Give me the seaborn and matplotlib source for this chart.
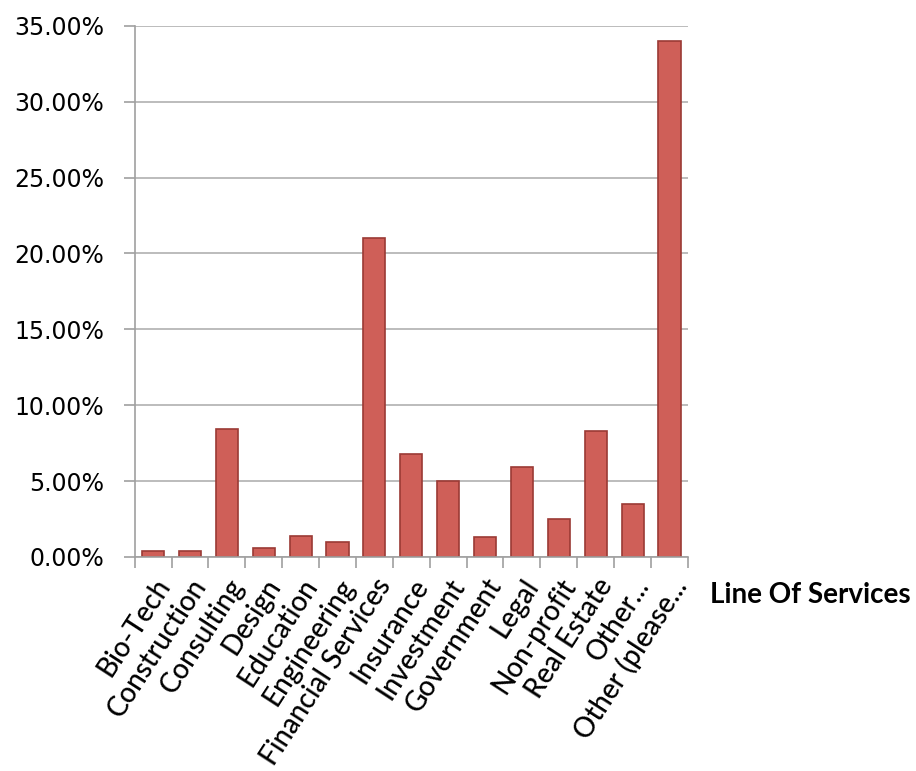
import matplotlib
matplotlib.use("Agg")
import matplotlib.pyplot as plt
import pandas as pd
import seaborn as sns
from matplotlib.ticker import FuncFormatter, FixedLocator

categories = [
    "Bio-Tech", "Construction", "Consulting", "Design", "Education",
    "Engineering", "Financial Services", "Insurance", "Investment",
    "Government", "Legal", "Non-profit", "Real Estate", "Other...",
    "Other (please...",
]
shares = [0.4, 0.4, 8.4, 0.6, 1.4, 1.0, 21.0, 6.8, 5.0, 1.3, 5.9, 2.5, 8.3, 3.5, 34.0]
y_ticks = [0, 5, 10, 15, 20, 25, 30, 35]

df = pd.DataFrame({"category": categories, "share": shares})

sns.set_theme(style="white")
plt.rcParams["font.family"] = ["DejaVu Sans"]

fig = plt.figure(figsize=(9.16, 7.71), dpi=100)
ax = fig.add_axes([0.147, 0.2776, 0.604, 0.689])

sns.barplot(data=df, x="category", y="share", color="#cf5f58", width=0.6,
            edgecolor="#9b3a35", linewidth=1.2, saturation=1, ax=ax)

ax.set_ylim(0, 35)
ax.set_xlim(-0.5, len(categories) - 0.5)
ax.set_yticks(y_ticks)
ax.yaxis.set_major_formatter(FuncFormatter(lambda v, _: f"{v:.2f}%"))
ax.grid(axis="y", color="#b0b0b0", linewidth=1.2)
ax.set_axisbelow(True)

for side in ["top", "right"]:
    ax.spines[side].set_visible(False)
for side in ["left", "bottom"]:
    ax.spines[side].set_color("#a0a0a0")
    ax.spines[side].set_linewidth(1.2)

# ticks between categories, labels at centres
ax.xaxis.set_major_locator(FixedLocator(range(len(categories))))
ax.xaxis.set_minor_locator(FixedLocator([i - 0.5 for i in range(len(categories) + 1)]))
ax.tick_params(axis="x", which="major", length=0, pad=12)
ax.tick_params(axis="x", which="minor", length=8, color="#a0a0a0", width=1.2,
               bottom=True)
ax.tick_params(axis="y", length=8, color="#a0a0a0", width=1.2, left=True,
               labelsize=17, labelcolor="black", pad=14)
ax.set_xticks(range(len(categories)))
ax.set_xticklabels(categories, rotation=57, ha="right", rotation_mode="anchor",
                   fontsize=20, family="Lato", fontweight="medium", color="black")

ax.set_ylabel("")
ax.set_xlabel("Line Of Services", fontsize=20, fontweight="bold", family="Lato",
              color="black")
ax.xaxis.set_label_coords(1.222, -0.048)

fig.savefig("out.png", dpi=100)
